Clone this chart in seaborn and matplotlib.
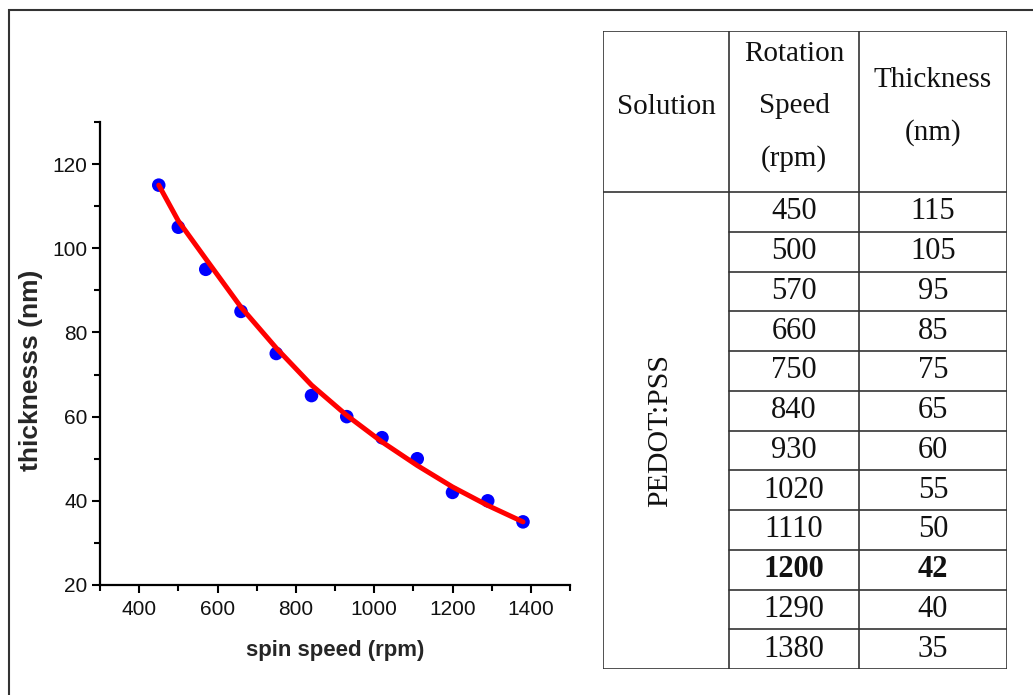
import matplotlib
matplotlib.use("Agg")
import matplotlib.pyplot as plt
import seaborn as sns
import pandas as pd
from matplotlib.patches import Rectangle
from matplotlib.ticker import MultipleLocator

# measured points (table values)
spin_rpm = [450, 500, 570, 660, 750, 840, 930, 1020, 1110, 1200, 1290, 1380]
thickness_nm = [115, 105, 95, 85, 75, 65, 60, 55, 50, 42, 40, 35]

# red fit curve
fit_rpm = [450, 500, 570, 660, 750, 840, 930, 1020, 1110, 1200, 1290, 1380]
fit_nm = [115, 106.5, 97.5, 86, 76.3, 67.5, 60.3, 54, 48.4, 43.3, 38.9, 35]

header = ["Solution", "Rotation\nSpeed\n(rpm)", "Thickness\n(nm)"]
solution = "PEDOT:PSS"
bold_rpm = 1200

sns.set_style("ticks")
plt.rcParams['font.family'] = ['Liberation Sans', 'DejaVu Sans']

W, H = 1033, 695
fig = plt.figure(figsize=(W / 100, H / 100), dpi=100)

# outer frame of the figure
fig.add_artist(Rectangle((9 / W, -0.2), 1.2, 1.2 - 10 / H, transform=fig.transFigure,
                         fill=False, edgecolor="#333333", linewidth=1.5))

# ---- scatter + fit ----
ax = fig.add_axes([100 / W, 1 - 585 / H, 470 / W, 463 / H])
df = pd.DataFrame({"rpm": spin_rpm, "nm": thickness_nm})
fit = pd.DataFrame({"rpm": fit_rpm, "nm": fit_nm})
sns.scatterplot(data=df, x="rpm", y="nm", ax=ax, color="#0000ff", s=95,
                edgecolor="none", zorder=2)
sns.lineplot(data=fit, x="rpm", y="nm", ax=ax, color="#ff0000", linewidth=3.6,
             zorder=3)

ax.set_xlim(300, 1500)
ax.set_ylim(20, 130)
ax.xaxis.set_minor_locator(MultipleLocator(100))
ax.yaxis.set_minor_locator(MultipleLocator(10))
ax.set_yticks([20, 40, 60, 80, 100, 120])
ax.set_xticks([400, 600, 800, 1000, 1200, 1400])
ax.tick_params(which="major", length=6, width=1.5, labelsize=15, color="black",
               labelcolor="#111111")
ax.tick_params(which="minor", length=4, width=1.5, color="black")
ax.tick_params(axis="x", which="major", pad=5)
ax.tick_params(axis="y", which="major", pad=3)
sns.despine(ax=ax)
for s in ["left", "bottom"]:
    ax.spines[s].set_linewidth(1.6)
    ax.spines[s].set_color("black")

ax.set_xlabel("spin speed (rpm)", fontsize=16, fontweight="bold")
ax.set_ylabel("thicknesss (nm)", fontsize=19, fontweight="bold")
ax.xaxis.set_label_coords(0.5, -0.118)
ax.yaxis.set_label_coords(-0.122, 0.464)

# ---- table ----
tx0, ty0, tx1, ty1 = 603, 31, 1007, 669
tab = fig.add_axes([tx0 / W, 1 - ty1 / H, (tx1 - tx0) / W, (ty1 - ty0) / H])
tw, th = tx1 - tx0, ty1 - ty0
tab.set_xlim(0, tw)
tab.set_ylim(th, 0)
tab.axis("off")

col_edges = [0, 126, 256, tw]
head_h = 161
n = len(spin_rpm)
row_h = (th - head_h) / n
lc = "#333333"
lw = 1.2

tab.add_patch(Rectangle((0, 0), tw, th, fill=False, edgecolor=lc, linewidth=lw))
for xe in col_edges[1:-1]:
    tab.plot([xe, xe], [0, th], color=lc, linewidth=lw)
tab.plot([0, tw], [head_h, head_h], color=lc, linewidth=lw)
for i in range(1, n):
    y = head_h + i * row_h
    tab.plot([col_edges[1], tw], [y, y], color=lc, linewidth=lw)

serif = ['Liberation Serif', 'DejaVu Serif']
for j, txt in enumerate(header):
    cx = (col_edges[j] + col_edges[j + 1]) / 2
    tab.text(cx, head_h / 2 - 5, txt, ha="center", va="center", fontsize=21,
             family=serif, linespacing=2.3, color="#111111")

tab.text((col_edges[0] + col_edges[1]) / 2 - 6, head_h + (th - head_h) / 2, solution,
         rotation=90, ha="center", va="center", fontsize=21.5, family=serif,
         color="#111111")

for i, (r, t) in enumerate(zip(spin_rpm, thickness_nm)):
    cy = head_h + (i + 0.5) * row_h
    fw = "bold" if r == bold_rpm else "normal"
    tab.text((col_edges[1] + col_edges[2]) / 2, cy, str(r), ha="center", va="center",
             fontsize=22, family=serif, fontweight=fw, color="#111111")
    tab.text((col_edges[2] + col_edges[3]) / 2, cy, str(t), ha="center", va="center",
             fontsize=22, family=serif, fontweight=fw, color="#111111")

fig.savefig("out.png", dpi=100)
